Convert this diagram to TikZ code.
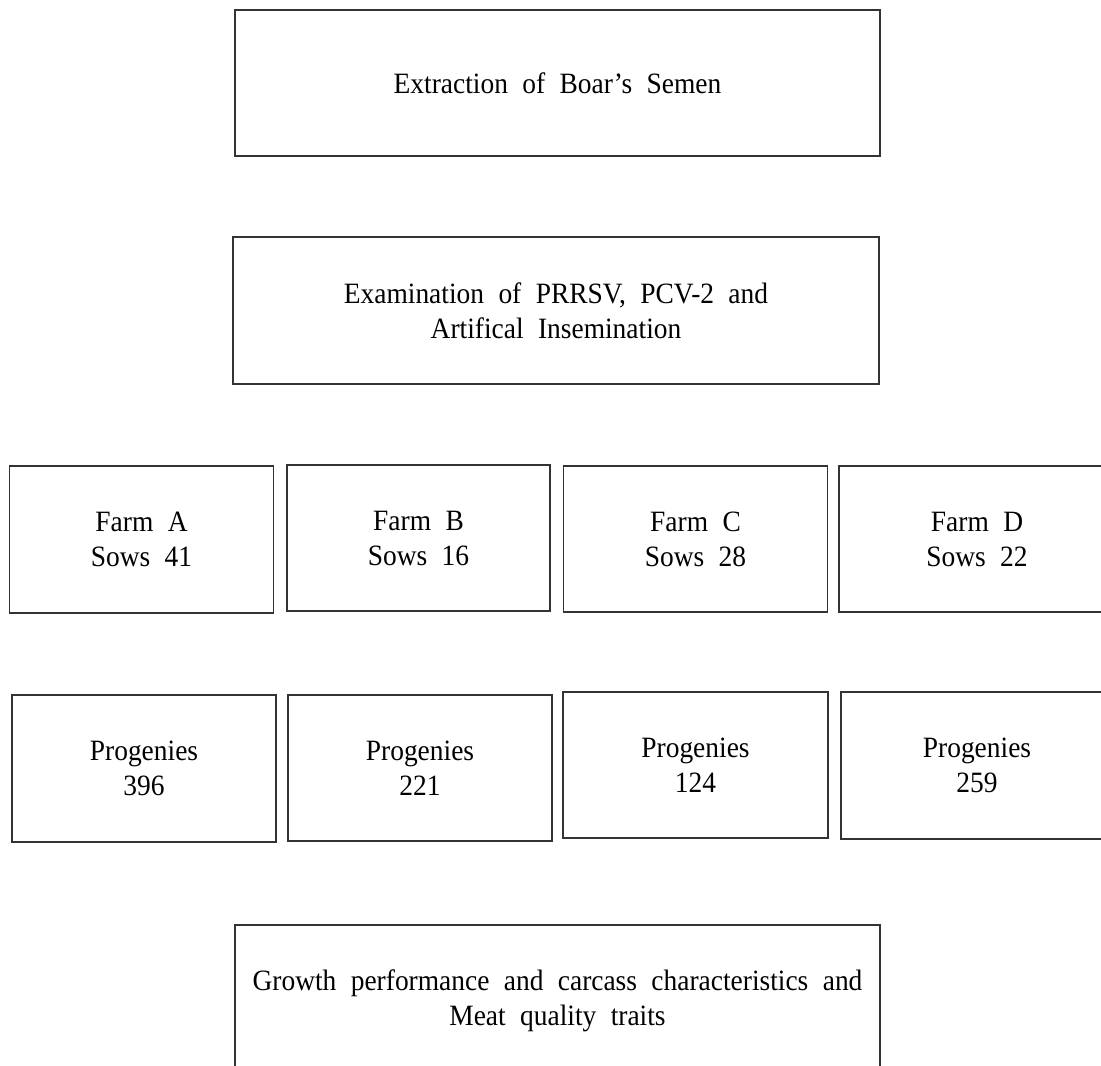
\documentclass[tikz,border=0pt]{standalone}
\usepackage{fontspec}
\setmainfont{Liberation Serif}[WordSpace=2.1, FakeStretch=0.93]
\begin{document}
\begin{tikzpicture}[x=1pt,y=-1pt,
  txt/.style={align=center,inner sep=0pt,font=\fontsize{29.5}{35}\selectfont,text=black},
  box/.style 2 args={txt,draw=black!80,line width=1.2pt,minimum width=#1,minimum height=#2}]
\useasboundingbox[fill=white] (0,0) rectangle (1101,1066);
% top boxes
\node[box={645pt}{146pt}] (b1) at (557.5,83) {Extraction of Boar's Semen};
\node[box={646pt}{147pt}] (b2) at (556,310.5) {Examination of PRRSV, PCV-2 and\\Artifical Insemination};
% farms
\node[box={264pt}{147pt}] (fa) at (141.5,539.5) {Farm A\\Sows 41};
\node[box={263pt}{146pt}] (fb) at (418.5,538) {Farm B\\Sows 16};
\node[box={264pt}{146pt}] (fc) at (695.5,539) {Farm C\\Sows 28};
\node[box={290pt}{146pt}] (fd) at (984,539) {};
\node[txt] (tfd) at (977,539) {Farm D\\Sows 22};
% progenies
\node[box={264pt}{147pt}] (pa) at (144,768.5) {Progenies\\396};
\node[box={264pt}{146pt}] (pb) at (420,768) {Progenies\\221};
\node[box={265pt}{146pt}] (pc) at (695.5,765) {Progenies\\124};
\node[box={290pt}{147pt}] (pd) at (986,765.5) {};
\node[txt] (tpd) at (977,765.5) {Progenies\\259};
% bottom
\node[box={645pt}{200pt}] (g) at (557.5,1025) {};
\node[txt] (tg) at (557.5,1001) {Growth performance and carcass characteristics and\\Meat quality traits};
\end{tikzpicture}
\end{document}
